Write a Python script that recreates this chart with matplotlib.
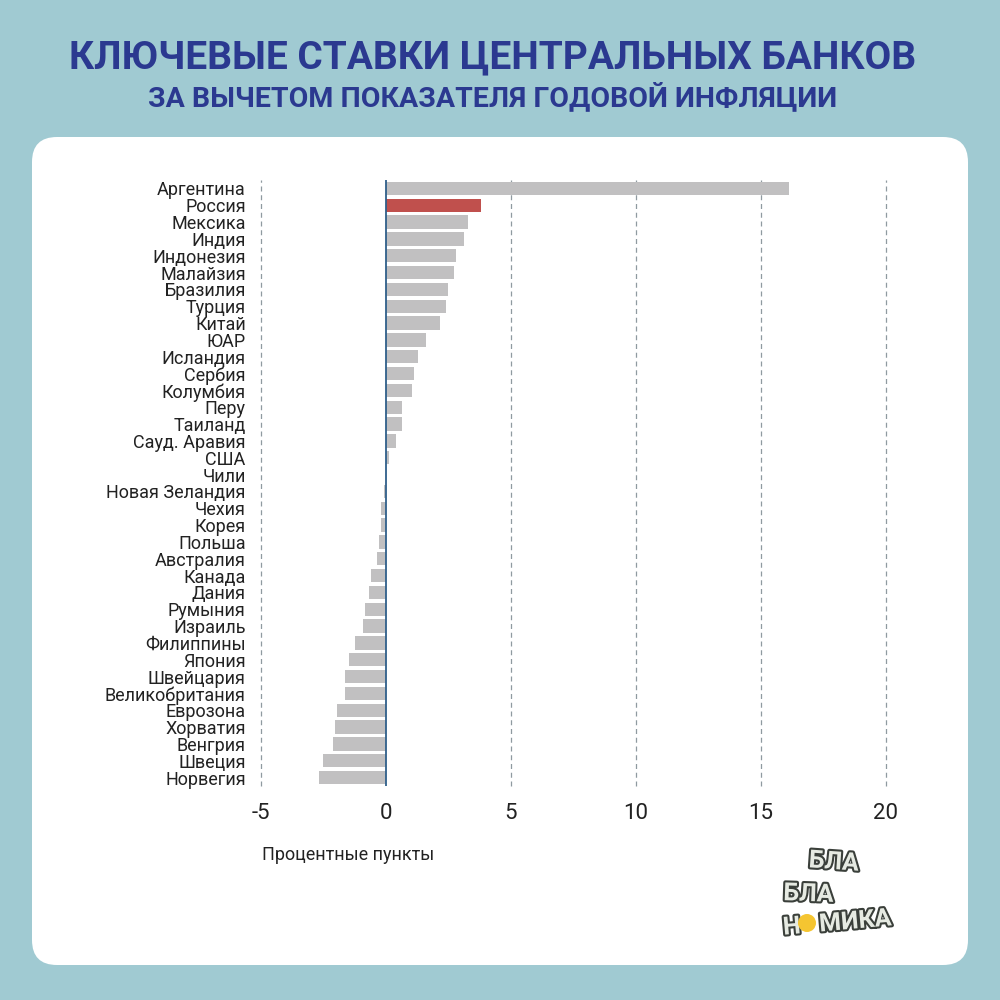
import matplotlib.pyplot as plt
import matplotlib.patheffects as pe
from matplotlib.patches import FancyBboxPatch, Circle

# данные: реальная ключевая ставка (ставка минус годовая инфляция), п.п.
countries = ['Аргентина', 'Россия', 'Мексика', 'Индия', 'Индонезия', 'Малайзия',
             'Бразилия', 'Турция', 'Китай', 'ЮАР', 'Исландия', 'Сербия', 'Колумбия',
             'Перу', 'Таиланд', 'Сауд. Аравия', 'США', 'Чили', 'Новая Зеландия',
             'Чехия', 'Корея', 'Польша', 'Австралия', 'Канада', 'Дания', 'Румыния',
             'Израиль', 'Филиппины', 'Япония', 'Швейцария', 'Великобритания',
             'Еврозона', 'Хорватия', 'Венгрия', 'Швеция', 'Норвегия']
values = [16.1, 3.8, 3.28, 3.12, 2.8, 2.72, 2.48, 2.4, 2.16, 1.6, 1.27, 1.1, 1.03,
          0.63, 0.63, 0.39, 0.12, 0.0, -0.1, -0.2, -0.2, -0.28, -0.36, -0.59, -0.67,
          -0.84, -0.92, -1.24, -1.48, -1.64, -1.64, -1.96, -2.04, -2.12, -2.52, -2.68]
highlight = 'Россия'
xticks = [-5, 0, 5, 10, 15, 20]

BG = '#a0cad2'
TITLE_C = '#2b3990'
GREY = '#c1c0c1'
RED = '#c0504d'

plt.rcParams['font.family'] = ['Roboto', 'DejaVu Sans']

fig = plt.figure(figsize=(10, 10), dpi=100)
fig.patch.set_facecolor(BG)

# белая подложка
panel = FancyBboxPatch((0.032, 0.035), 0.936, 0.828, boxstyle='round,pad=0,rounding_size=0.025',
                       transform=fig.transFigure, facecolor='white', edgecolor='none', zorder=-1)
fig.patches.append(panel)

fig.text(0.493, 0.942, 'КЛЮЧЕВЫЕ СТАВКИ ЦЕНТРАЛЬНЫХ БАНКОВ', ha='center', va='center',
         fontsize=28, fontweight='bold', color=TITLE_C)
fig.text(0.493, 0.903, 'ЗА ВЫЧЕТОМ ПОКАЗАТЕЛЯ ГОДОВОЙ ИНФЛЯЦИИ', ha='center', va='center',
         fontsize=20.5, fontweight='bold', color=TITLE_C)

ax = fig.add_axes([0.261, 0.214, 0.625, 0.606])
ax.set_facecolor('none')
y = range(len(countries))
colors = [RED if c == highlight else GREY for c in countries]
ax.barh(list(y), values, height=0.8, color=colors, zorder=2)
ax.set_xlim(-5, 20)
ax.set_ylim(len(countries) - 0.5, -0.5)
ax.set_yticks(list(y))
ax.set_yticklabels(countries, fontsize=13, color='#222222')
ax.set_xticks(xticks)
ax.set_xticklabels([str(t) for t in xticks], fontsize=16, color='#222222')
ax.tick_params(axis='x', length=0, pad=12)
ax.tick_params(axis='y', length=0, pad=11)
for t in xticks:
    if t != 0:
        ax.axvline(t, color='#8f9aa0', lw=0.9, ls=(0, (4, 3)), zorder=1, clip_on=False)
ax.axvline(0, color='#2f5f8a', lw=1.3, zorder=3)
for s in ax.spines.values():
    s.set_visible(False)

fig.text(0.262, 0.145, 'Процентные пункты', ha='left', va='center', fontsize=13, color='#222222')

# логотип
logo_kw = dict(fontsize=18, fontweight='bold', color='#e6eae2')
eff = [pe.withStroke(linewidth=3, foreground='#3a3f3a')]
fig.text(0.808, 0.138, 'БЛА', ha='left', va='center', rotation=-4, path_effects=eff, **logo_kw)
fig.text(0.783, 0.106, 'БЛА', ha='left', va='center', rotation=-2, path_effects=eff, **logo_kw)
fig.text(0.782, 0.077, 'Н   МИКА', ha='left', va='center', rotation=5, path_effects=eff, **logo_kw)
fig.patches.append(Circle((0.807, 0.077), 0.009, transform=fig.transFigure,
                          facecolor='#f5c531', edgecolor='none', zorder=5))

fig.savefig('out.png', dpi=100, facecolor=BG)
